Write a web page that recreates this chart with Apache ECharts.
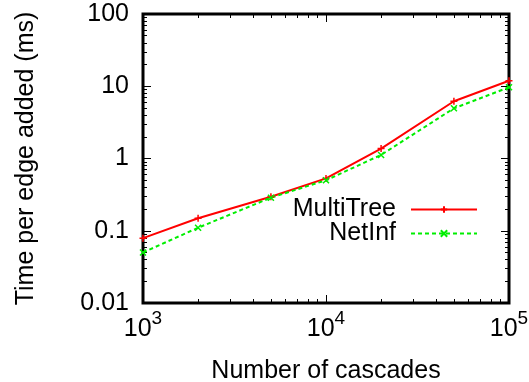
<!DOCTYPE html>
<html>
<head>
<meta charset="utf-8">
<script src="https://cdn.jsdelivr.net/npm/echarts@6/dist/echarts.min.js"></script>
<style>
  html, body { margin: 0; padding: 0; background: #fff; }
  #chart { width: 529px; height: 382px; }
</style>
</head>
<body>
<div id="chart"></div>
<script>
  // number of cascades (x) and time per edge added in ms (y)
  var cascades = [1000, 2000, 5000, 10000, 20000, 50000, 100000];
  var multiTree = [0.079, 0.149, 0.296, 0.53, 1.37, 6.2, 11.9];
  var netInf = [0.050, 0.110, 0.287, 0.50, 1.12, 4.95, 9.67];
  var yTicks = [0.01, 0.1, 1, 10, 100];
  var xTicks = [1000, 10000, 100000];

  // gnuplot style minor ticks at 2..9 of each decade, as log10 positions
  function minorTicks(lo, hi) {
    var out = [];
    for (var d = lo; d < hi * 0.999; d *= 10) {
      for (var k = 2; k <= 9; k++) out.push(Math.log10(d * k));
    }
    return out;
  }
  var xMinor = minorTicks(1000, 100000);
  var yMinor = minorTicks(0.01, 100);

  var font = 'Liberation Sans, Arial, Helvetica, sans-serif';
  var fs = 25;
  var myChart = echarts.init(document.getElementById('chart'));

  function tickStyle(len) {
    return { show: true, inside: true, length: len, lineStyle: { color: '#000', width: 1 } };
  }

  // major axes: log scale, on grid 0
  function xMajor(pos, withLabel) {
    var ax = {
      gridIndex: 0, type: 'log', logBase: 10, min: xTicks[0], max: xTicks[xTicks.length - 1],
      position: pos,
      axisLine: { show: false, onZero: false }, splitLine: { show: false },
      axisTick: tickStyle(8),
      axisLabel: { show: false }
    };
    if (withLabel) {
      ax.name = 'Number of cascades';
      ax.nameLocation = 'middle';
      ax.nameGap = 56;
      ax.nameMoveOverlap = false;
      ax.nameTextStyle = { fontFamily: font, fontSize: fs, color: '#000' };
      ax.axisLabel = {
        show: true, margin: 6,
        formatter: function (v) {
          return '{b|10}{s|' + Math.round(Math.log10(v)) + '}';
        },
        rich: {
          b: { fontFamily: font, fontSize: fs, color: '#000' },
          s: { fontFamily: font, fontSize: 19, color: '#000', padding: [0, 0, 22, 0] }
        }
      };
    }
    return ax;
  }

  function yMajor(pos, withLabel) {
    var ax = {
      gridIndex: 0, type: 'log', logBase: 10, min: yTicks[0], max: yTicks[yTicks.length - 1],
      position: pos,
      axisLine: { show: false, onZero: false }, splitLine: { show: false },
      axisTick: tickStyle(8),
      axisLabel: { show: false }
    };
    if (withLabel) {
      ax.name = 'Time per edge added (ms)';
      ax.nameLocation = 'middle';
      ax.nameGap = 104;
      ax.nameMoveOverlap = false;
      ax.nameTextStyle = { fontFamily: font, fontSize: fs, color: '#000' };
      ax.axisLabel = {
        show: true, margin: 14,
        fontFamily: font, fontSize: fs, color: '#000',
        formatter: function (v) { return String(+v.toPrecision(3)); }
      };
    }
    return ax;
  }

  // minor ticks: a cartesian grid holds only two axes per direction, so they
  // live on a second grid laid exactly over the first, in log10 units
  function minorAxis(pos, lo, hi, values) {
    var t = tickStyle(4);
    t.customValues = values;
    return {
      gridIndex: 1, type: 'value', min: Math.log10(lo), max: Math.log10(hi), position: pos,
      axisLine: { show: false, onZero: false }, splitLine: { show: false },
      axisTick: t, axisLabel: { show: false }
    };
  }

  var legendBase = {
    orient: 'horizontal', align: 'right', right: 51, padding: 0,
    itemWidth: 66, itemHeight: 8,
    textStyle: { fontFamily: font, fontSize: fs, color: '#000', padding: [0, 10, 0, 0] }
  };

  var gridRect = { left: 143, right: 20, top: 14, bottom: 79, outerBoundsMode: 'none' };

  var option = {
    animation: false,
    grid: [
      Object.assign({ show: true, borderColor: '#000', borderWidth: 3,
                      backgroundColor: 'transparent' }, gridRect),
      Object.assign({ show: false }, gridRect)
    ],
    legend: [
      Object.assign({}, legendBase, { data: ['MultiTree'], top: 197 }),
      Object.assign({}, legendBase, { data: ['NetInf'], top: 221 })
    ],
    xAxis: [
      xMajor('bottom', true),
      xMajor('top', false),
      minorAxis('bottom', xTicks[0], xTicks[xTicks.length - 1], xMinor),
      minorAxis('top', xTicks[0], xTicks[xTicks.length - 1], xMinor)
    ],
    yAxis: [
      yMajor('left', true),
      yMajor('right', false),
      minorAxis('left', yTicks[0], yTicks[yTicks.length - 1], yMinor),
      minorAxis('right', yTicks[0], yTicks[yTicks.length - 1], yMinor)
    ],
    series: [
      {
        name: 'MultiTree', type: 'line', xAxisIndex: 0, yAxisIndex: 0,
        data: cascades.map(function (c, i) { return [c, multiTree[i]]; }),
        symbol: 'path://M0,5L10,5M5,0L5,10', symbolSize: 7,
        lineStyle: { color: '#ff0000', width: 2 },
        itemStyle: { color: '#ff0000', borderColor: '#ff0000', borderWidth: 1.5 }
      },
      {
        name: 'NetInf', type: 'line', xAxisIndex: 0, yAxisIndex: 0,
        data: cascades.map(function (c, i) { return [c, netInf[i]]; }),
        symbol: 'path://M0,0L10,10M10,0L0,10', symbolSize: 6,
        lineStyle: { color: '#00ee00', width: 2, type: [4, 3] },
        itemStyle: { color: '#00ee00', borderColor: '#00ee00', borderWidth: 1.5 }
      }
    ]
  };

  myChart.setOption(option);
</script>
</body>
</html>
